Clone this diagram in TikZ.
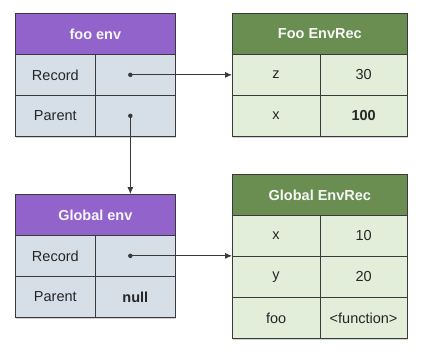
\documentclass[tikz,border=0pt]{standalone}
\usepackage{fontspec}
\setmainfont{Liberation Sans}
\usetikzlibrary{shadows, arrows.meta}

\definecolor{envhead}{HTML}{9163CB}
\definecolor{envcell}{HTML}{D6DEE8}
\definecolor{rechead}{HTML}{6A8E52}
\definecolor{reccell}{HTML}{E2EED9}
\definecolor{gridline}{HTML}{3A3A3A}

\tikzset{
  cell/.style={draw=gridline, line width=0.7pt, anchor=north west, inner sep=0pt,
    minimum height=41pt, font=\fontsize{14.5}{17}\selectfont, text=black!85},
  tablebox/.style={draw=gridline, line width=0.7pt, anchor=north west, inner sep=0pt, fill=white,
    drop shadow={shadow xshift=1pt, shadow yshift=-2pt, opacity=0.35}},
  envtitle/.style={cell, fill=envhead, text=white!94!envhead, font=\fontsize{14.5}{17}\selectfont\bfseries},
  envbox/.style={cell, fill=envcell, minimum width=80pt},
  rectitle/.style={cell, fill=rechead, text=white!94!rechead, font=\fontsize{14.5}{17}\selectfont\bfseries},
  recbox/.style={cell, fill=reccell, minimum width=87.5pt},
  dot/.style={circle, fill=gridline, inner sep=0pt, minimum size=4.5pt},
  link/.style={draw=gridline, line width=0.8pt, -{Latex[length=7pt, width=6pt]}}
}

\begin{document}
\begin{tikzpicture}[x=1pt, y=-1pt]
\fill[white] (0,0) rectangle (423,361);
\useasboundingbox (0,0) rectangle (423,361);

% foo env
\node[tablebox, minimum width=160pt, minimum height=123pt] (fooEnv) at (15,13) {};
\node[envtitle, minimum width=160pt] (fooEnvTitle) at (15,13) {foo env};
\node[envbox] (fooRecKey) at (15,54) {Record};
\node[envbox] (fooRecVal) at (95,54) {};
\node[envbox] (fooParKey) at (15,95) {Parent};
\node[envbox] (fooParVal) at (95,95) {};
\node[dot] (fooRecDot) at ([xshift=-5pt]fooRecVal.center) {};
\node[dot] (fooParDot) at ([xshift=-5pt]fooParVal.center) {};

% Foo EnvRec
\node[tablebox, minimum width=175pt, minimum height=123pt] (fooRec) at (232,13) {};
\node[rectitle, minimum width=175pt] (fooRecTitle) at (232,13) {Foo EnvRec};
\node[recbox] (fooZKey) at (232,54) {z};
\node[recbox] (fooZVal) at (319.5,54) {30};
\node[recbox] (fooXKey) at (232,95) {x};
\node[recbox] (fooXVal) at (319.5,95) {\bfseries 100};

% Global env
\node[tablebox, minimum width=160pt, minimum height=123pt] (globalEnv) at (15,194) {};
\node[envtitle, minimum width=160pt] (globalEnvTitle) at (15,194) {Global env};
\node[envbox] (globalRecKey) at (15,235) {Record};
\node[envbox] (globalRecVal) at (95,235) {};
\node[envbox] (globalParKey) at (15,276) {Parent};
\node[envbox] (globalParVal) at (95,276) {\bfseries null};
\node[dot] (globalRecDot) at ([xshift=-5pt]globalRecVal.center) {};

% Global EnvRec
\node[tablebox, minimum width=175pt, minimum height=164pt] (globalRec) at (232,174) {};
\node[rectitle, minimum width=175pt] (globalRecTitle) at (232,174) {Global EnvRec};
\node[recbox] (globalXKey) at (232,215) {x};
\node[recbox] (globalXVal) at (319.5,215) {10};
\node[recbox] (globalYKey) at (232,256) {y};
\node[recbox] (globalYVal) at (319.5,256) {20};
\node[recbox] (globalFooKey) at (232,297) {foo};
\node[recbox] (globalFooVal) at (319.5,297) {<function>};

% pointers
\draw[link] (fooRecDot.center) -- (fooRecDot -| fooRec.west);
\draw[link] (fooParDot.center) -- (fooParDot |- globalEnv.north);
\draw[link] (globalRecDot.center) -- (globalRecDot -| globalRec.west);

\end{tikzpicture}
\end{document}
